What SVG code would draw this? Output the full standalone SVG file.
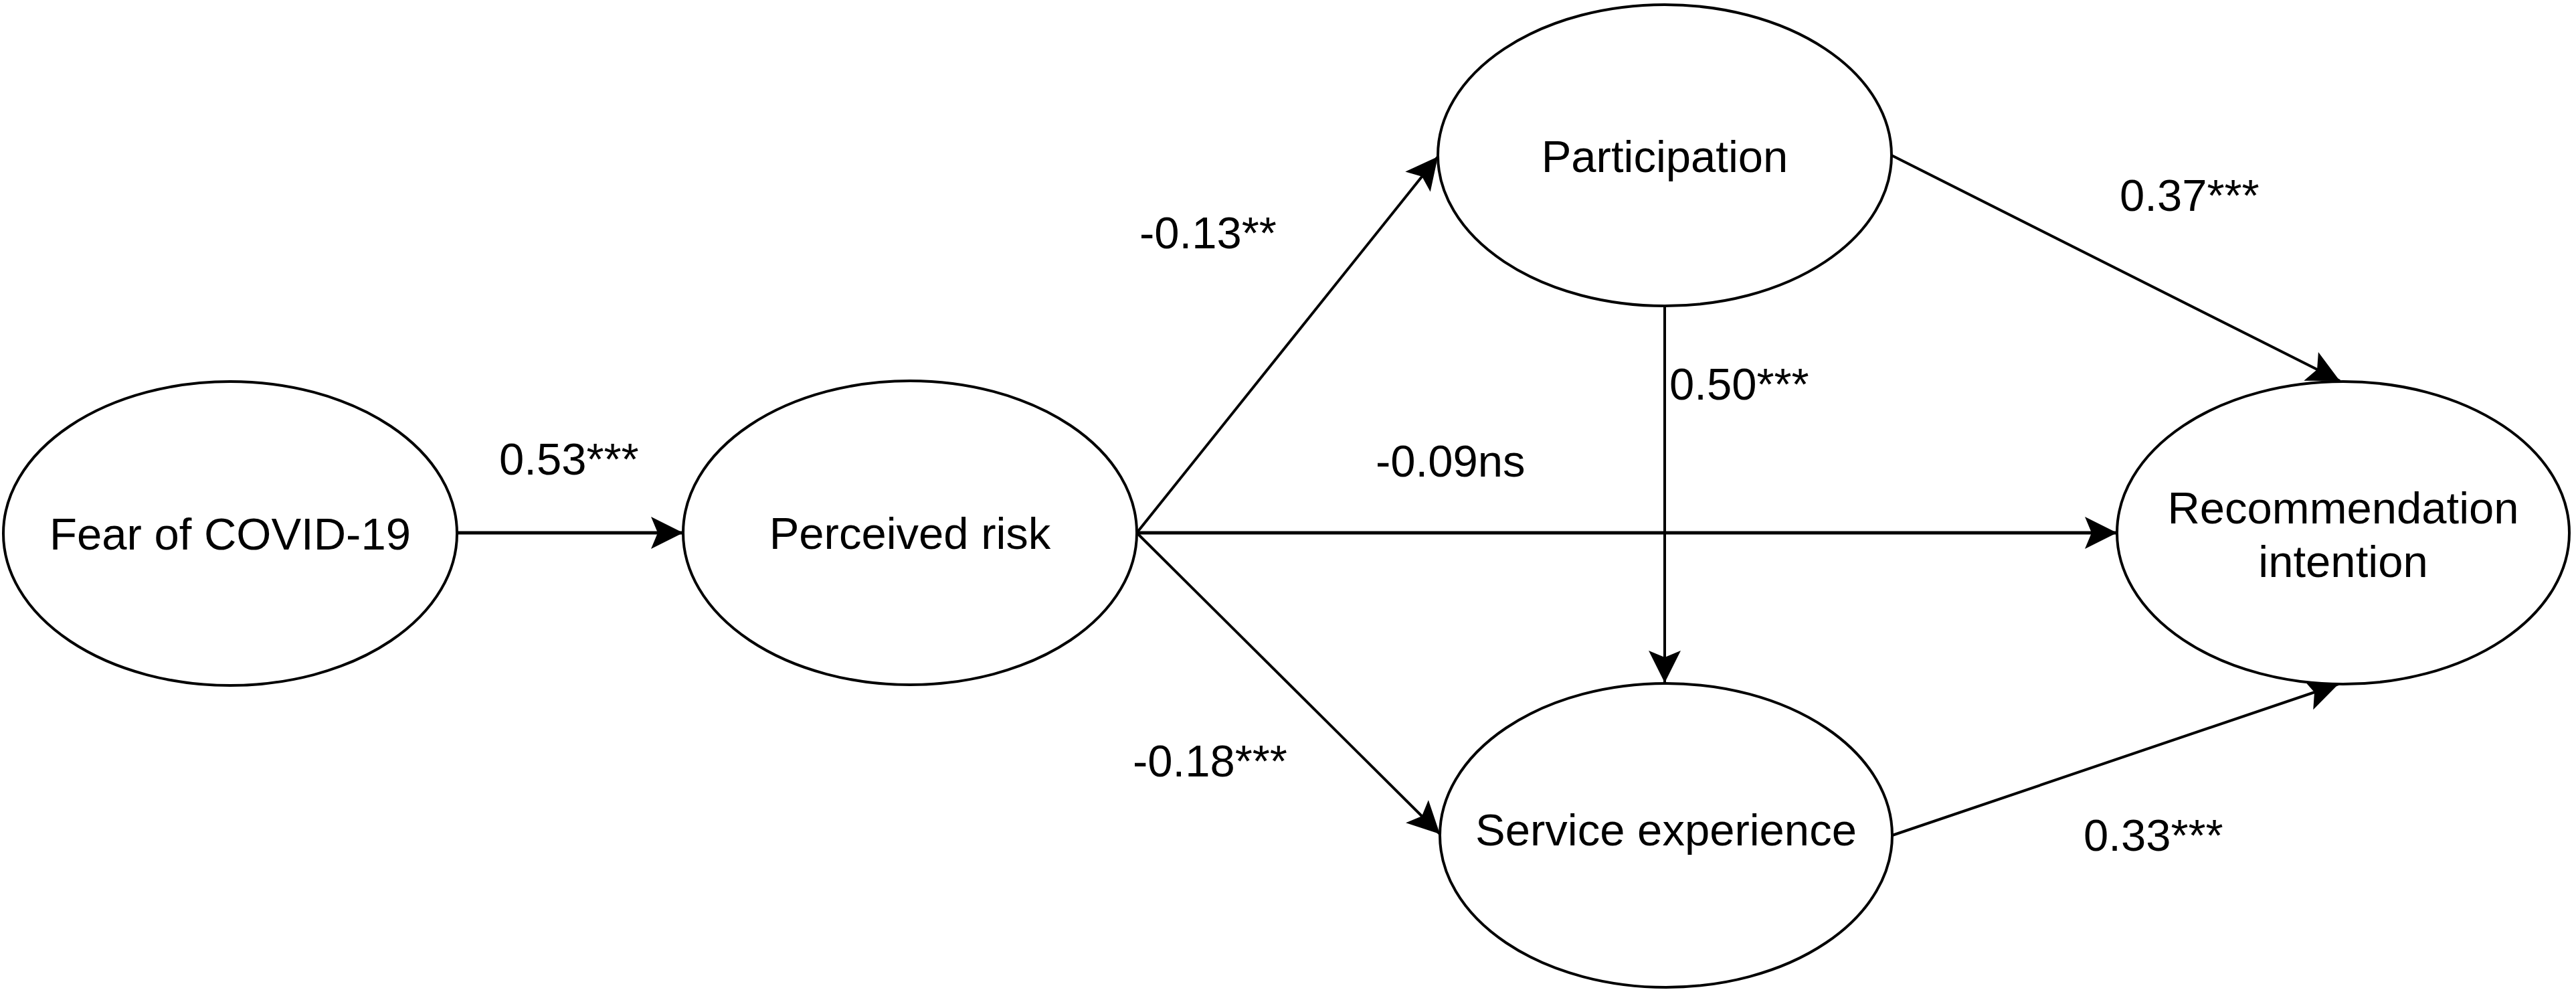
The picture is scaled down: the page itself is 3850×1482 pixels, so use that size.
<svg xmlns="http://www.w3.org/2000/svg" width="3850" height="1482" viewBox="0 0 3850 1482">
<defs>
<style>
.node ellipse{fill:#fff;stroke:#000;stroke-width:4}
text{font-family:"Liberation Sans",Arial,Helvetica,sans-serif;font-size:67px;fill:#000}
.c{text-anchor:middle}
.edge{stroke:#000;fill:none;stroke-width:4}
.thick{stroke-width:5}
</style>
<marker id="arr" markerUnits="userSpaceOnUse" viewBox="-50 -26 52 52" refX="0" refY="0" markerWidth="52" markerHeight="52" orient="auto">
<path d="M0,0 L-48,-24 L-38,0 L-48,24 Z" fill="#000"/>
</marker>
</defs>
<rect width="3850" height="1482" fill="#fff"/>
<g id="connectors">
<line class="edge thick" x1="683" y1="796" x2="1021" y2="796" marker-end="url(#arr)"/>
<line class="edge thick" x1="1699" y1="796" x2="3164" y2="796" marker-end="url(#arr)"/>
<line class="edge" x1="1699" y1="796" x2="2149" y2="234" marker-end="url(#arr)"/>
<line class="edge" x1="1699" y1="796" x2="2152" y2="1246" marker-end="url(#arr)"/>
<line class="edge" x1="2488" y1="457" x2="2488" y2="1020" marker-end="url(#arr)"/>
<line class="edge" x1="2827" y1="232" x2="3497" y2="569" marker-end="url(#arr)"/>
<line class="edge" x1="2828" y1="1248" x2="3495" y2="1022" marker-end="url(#arr)"/>
<text x="746" y="709">0.53***</text>
<text x="1703" y="371">-0.13**</text>
<text x="3168" y="315">0.37***</text>
<text x="2495" y="597">0.50***</text>
<text x="2056" y="712">-0.09ns</text>
<text x="1693" y="1160">-0.18***</text>
<text x="3114" y="1271">0.33***</text>
</g>
<g id="fear" class="node">
<ellipse cx="344" cy="797" rx="339" ry="227"/>
<text class="c" x="344" y="821">Fear of COVID-19</text>
</g>
<g id="perceived" class="node">
<ellipse cx="1360" cy="796" rx="339" ry="227"/>
<text class="c" x="1360" y="820">Perceived risk</text>
</g>
<g id="participation" class="node">
<ellipse cx="2488" cy="232" rx="339" ry="225"/>
<text class="c" x="2488" y="257">Participation</text>
</g>
<g id="service" class="node">
<ellipse cx="2490" cy="1248" rx="338" ry="227"/>
<text class="c" x="2490" y="1263">Service experience</text>
</g>
<g id="recommendation" class="node">
<ellipse cx="3502" cy="796" rx="338" ry="226"/>
<text class="c" x="3502" y="782">Recommendation</text>
<text class="c" x="3502" y="862">intention</text>
</g>
</svg>
